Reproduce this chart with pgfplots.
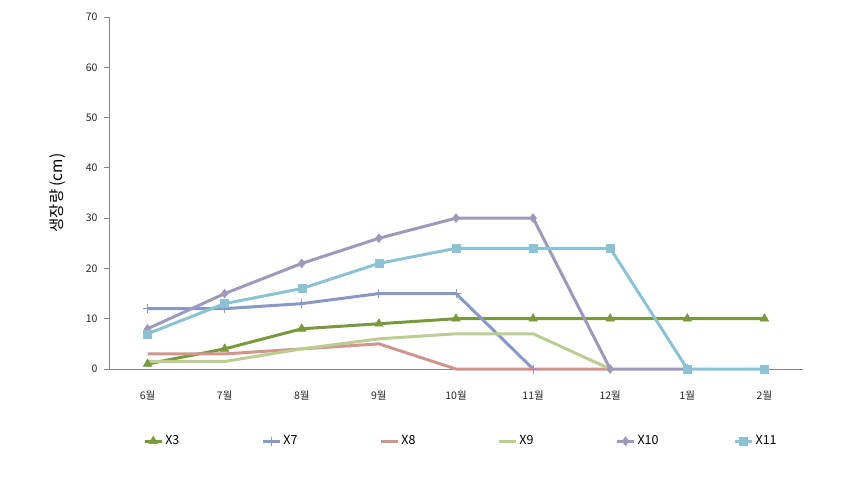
\documentclass[border=0pt]{standalone}
\usepackage{fontspec}
\setmainfont{Noto Sans CJK KR}
\usepackage{pgfplots}
\pgfplotsset{compat=1.18}
\definecolor{cX3}{HTML}{789A3C}
\definecolor{cX7}{HTML}{8899C6}
\definecolor{cX8}{HTML}{CF958E}
\definecolor{cX9}{HTML}{BCCD93}
\definecolor{cX10}{HTML}{9E98BA}
\definecolor{cX11}{HTML}{8DC2D4}
\definecolor{axgray}{HTML}{868686}
\begin{document}
\begin{tikzpicture}[x=1pt,y=1pt]
\path (-109,-108) rectangle (757,369);
\begin{axis}[
  at={(0,0)}, anchor=south west,
  scale only axis, width=694pt, height=352pt,
  xmin=-0.5, xmax=8.5, ymin=0, ymax=70,
  axis x line=bottom, axis y line=left,
  axis line style={axgray, line width=0.9pt, -},
  xtick={0,...,8},
  xticklabels={6월,7월,8월,9월,10월,11월,12월,1월,2월},
  ytick={0,10,...,70},
  x tick style={draw=none},
  y tick style={axgray, line width=0.9pt},
  tick align=outside, major tick length=5pt,
  tick label style={font=\fontsize{10.5}{12}\selectfont, text=black!85},
  /pgf/number format/assume math mode=true,
  xticklabel style={yshift=-13pt},
  yticklabel style={xshift=-3pt},
  ylabel={생장량 (cm)},
  ylabel style={font=\fontsize{15.5}{18}\selectfont, at={(axis description cs:-0.058,0.5)}},
  clip=false,
  legend columns=6,
  legend style={at={(0.049,-0.205)}, anchor=west, draw=none,
    font=\fontsize{12.5}{14}\selectfont,
    /tikz/every even column/.append style={text width=94pt, align=left},
    inner sep=0pt},
  legend cell align=left,
  every axis plot/.append style={line width=3pt},
]
\addplot[cX3, mark=triangle*, mark size=5pt, mark options={line width=0.5pt}] coordinates {(0,1)(1,4)(2,8)(3,9)(4,10)(5,10)(6,10)(7,10)(8,10)};
\addlegendentry{X3}
\addplot[cX7, mark=+, mark size=4.5pt, mark options={line width=1pt}] coordinates {(0,12)(1,12)(2,13)(3,15)(4,15)(5,0)};
\addlegendentry{X7}
\addplot[cX8] coordinates {(0,3)(1,3)(2,4)(3,5)(4,0)(5,0)(6,0)};
\addlegendentry{X8}
\addplot[cX9] coordinates {(0,1.5)(1,1.5)(2,4)(3,6)(4,7)(5,7)(6,0)};
\addlegendentry{X9}
\addplot[cX10, mark=diamond*, mark size=4.5pt, mark options={line width=0.5pt}] coordinates {(0,8)(1,15)(2,21)(3,26)(4,30)(5,30)(6,0)(7,0)};
\addlegendentry{X10}
\addplot[cX11, mark=square*, mark size=4pt, mark options={line width=0.5pt}] coordinates {(0,7)(1,13)(2,16)(3,21)(4,24)(5,24)(6,24)(7,0)(8,0)};
\addlegendentry{X11}
\end{axis}
\end{tikzpicture}
\end{document}
